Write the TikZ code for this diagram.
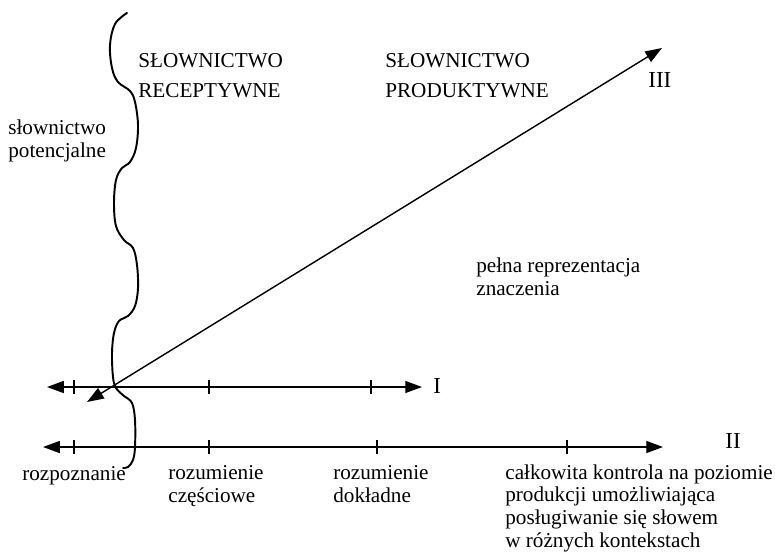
\documentclass[tikz,border=0pt]{standalone}
\usepackage{fontspec}
\setmainfont{Liberation Serif}
\usetikzlibrary{arrows.meta}

\begin{document}
\begin{tikzpicture}[
  x=0.567pt, y=-0.567pt,
  every node/.style={font=\fontsize{12}{12.8}\selectfont, inner sep=0pt},
  axis/.style={{Triangle[length=9.5pt,width=6.8pt]}-{Triangle[length=9.5pt,width=6.8pt]}, line width=0.8pt},
  tick/.style={line width=0.8pt},
  brace/.style={line width=1.1pt, line cap=round},
  lbl/.style={anchor=base west, align=left}, % base = linia bazowa ostatniego wiersza
  nr/.style={lbl, font=\fontsize{13}{14}\selectfont}
]
  \useasboundingbox (0,0) rectangle (775,555);

  % --- OSIE ---
  \coordinate (osI-l) at (47,387);
  \coordinate (osI-r) at (422,387);
  \coordinate (osII-l) at (43,447);
  \coordinate (osII-r) at (663,447);
  \coordinate (osIII-l) at (87,402);
  \coordinate (osIII-r) at (662,48);

  \draw[axis] (osI-l) -- (osI-r);
  \draw[axis] (osII-l) -- (osII-r);
  \draw[axis] (osIII-l) -- (osIII-r);

  % kreski podzialki
  \foreach \x in {74,209,371} \draw[tick] (\x,380) -- (\x,394);
  \foreach \x in {74,209,377,567} \draw[tick] (\x,440) -- (\x,454);

  % --- FALISTA KLAMRA ---
  \draw[brace] plot[smooth, tension=0.6] coordinates {
    (127,13) (115,24) (110,45) (112,68) (118,82) (130,91) (135,102)
    (138,125) (136,148) (130,162) (122,168) (116,180) (114,203)
    (116,226) (124,240) (133,248) (137,265) (138,288) (135,306)
    (128,316) (119,321) (114,333) (112,353) (113,377) (116,388)
    (124,396) (132,403) (135,420) (135,447) (133,460) (128,467) (123,468)};

  % --- NAPISY ---
  \node[lbl, font=\fontsize{12}{17}\selectfont] (recept) at (138,97) {SŁOWNICTWO\\RECEPTYWNE};
  \node[lbl, font=\fontsize{12}{17}\selectfont] (produkt) at (385,97) {SŁOWNICTWO\\PRODUKTYWNE};
  \node[lbl] (potenc) at (8,157) {słownictwo\\potencjalne};
  \node[lbl] (pelna) at (476,295) {pełna reprezentacja\\znaczenia};

  \node[lbl] (rozpozn) at (22,480) {rozpoznanie};
  \node[lbl] (czesc) at (168,502) {rozumienie\\częściowe};
  \node[lbl] (dokl) at (333,502) {rozumienie\\dokładne};
  \node[lbl] (kontrola) at (505,547) {całkowita kontrola na poziomie\\produkcji umożliwiająca\\posługiwanie się słowem\\w różnych kontekstach};

  \node[nr] (nrI) at (433,393) {I};
  \node[nr] (nrII) at (725,448) {II};
  \node[nr] (nrIII) at (648,87) {III};
\end{tikzpicture}
\end{document}
